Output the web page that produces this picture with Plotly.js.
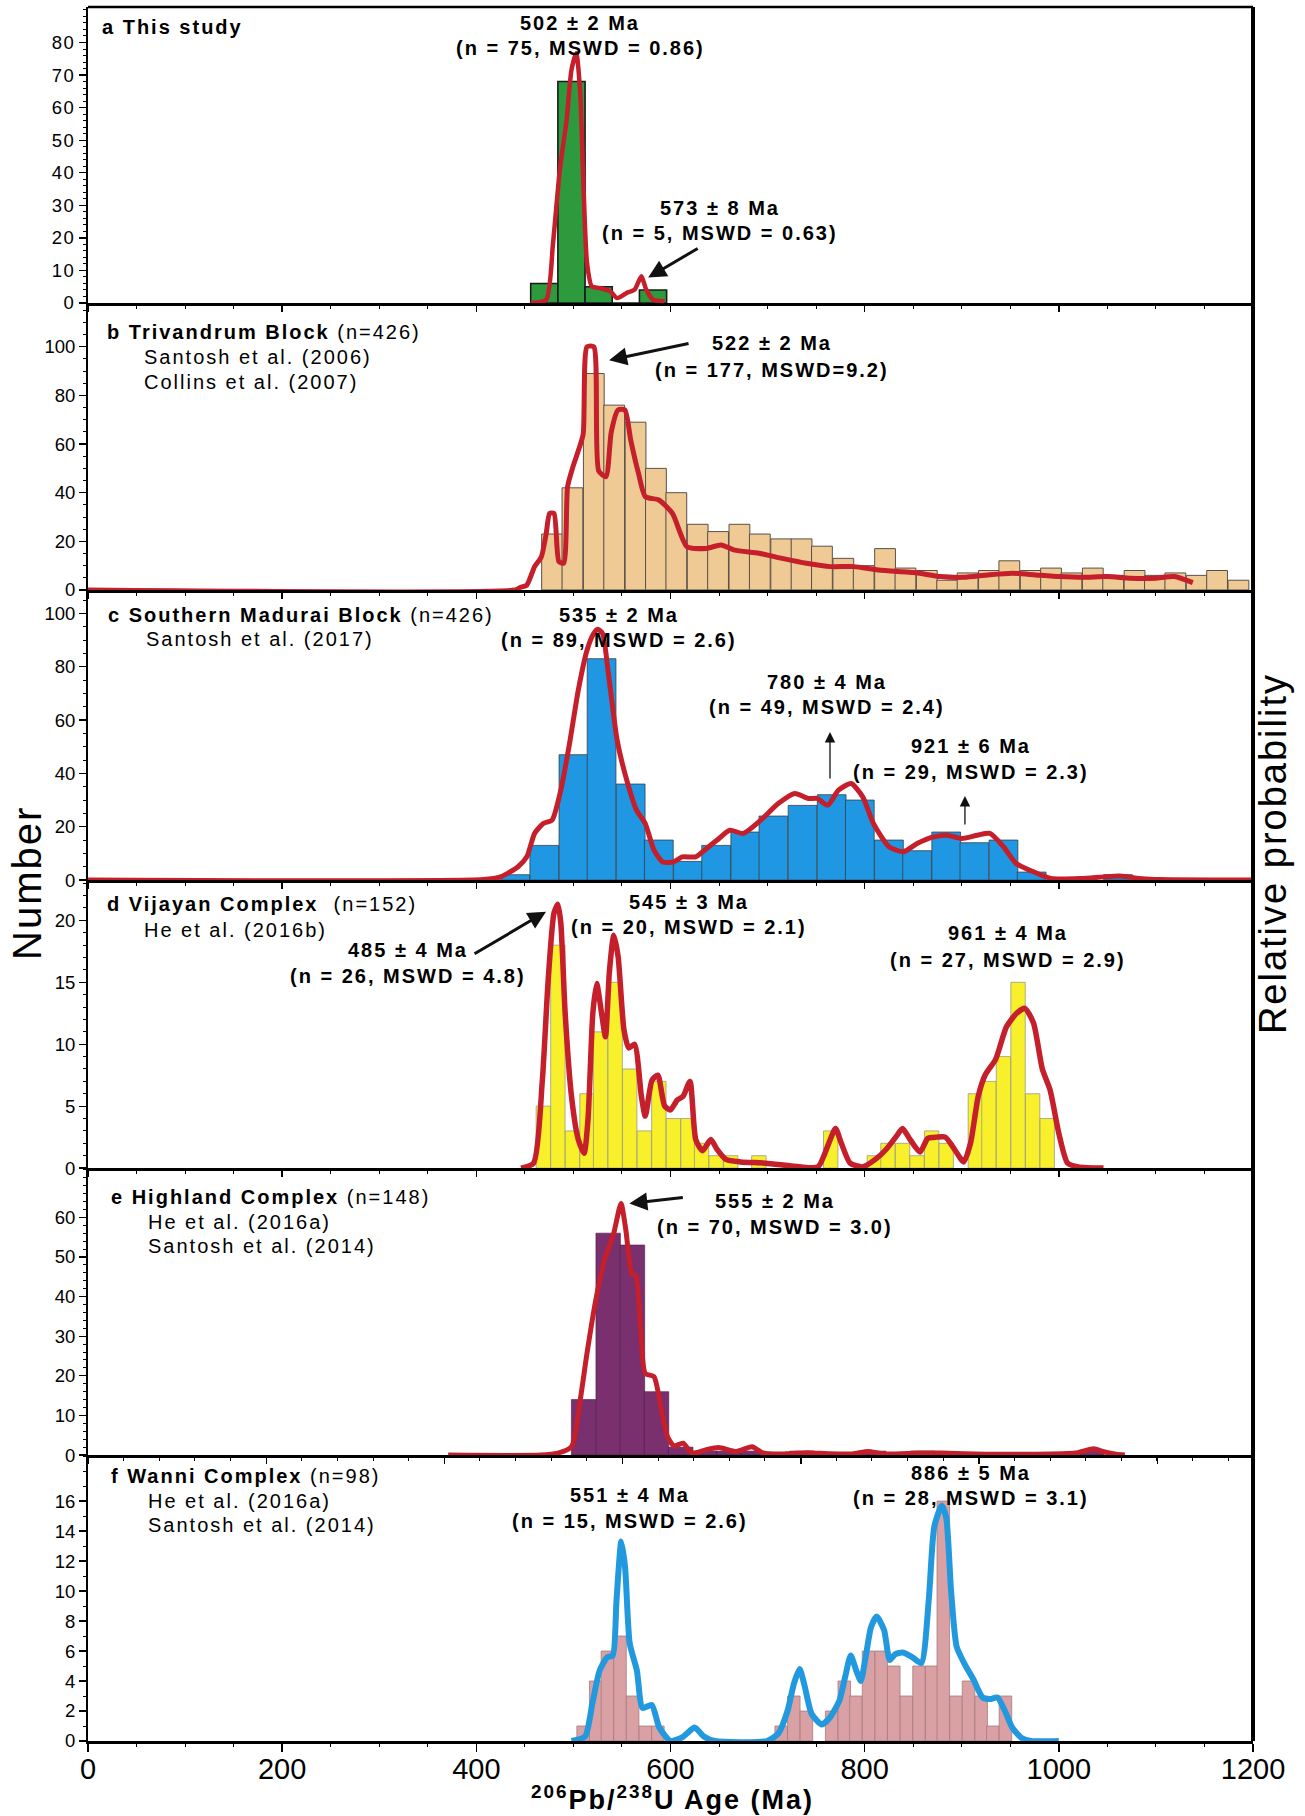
<!DOCTYPE html>
<html>
<head>
<meta charset="utf-8">
<script src="https://cdn.plot.ly/plotly-3.0.1.min.js"></script>
<style>
  html, body { margin: 0; padding: 0; background: #fff; }
  .annotation-text { letter-spacing: 2px; }
  .ytick text, .xtick text { letter-spacing: 1.5px; }
</style>
</head>
<body>
<div id="chart" style="width:1305px;height:1816px;"></div>
<script>
// ---- (a) This study ----
const ageBinsA = [470, 498, 526, 554, 582];
const countsA  = [6, 68, 5, 0, 4];
const curveAgeA  = [456, 472, 479, 486, 493, 498, 503, 507, 510, 514, 519, 527, 538, 545, 555, 563, 570, 575, 582, 594];
const curveProbA = [0, 1, 18.4, 40.9, 56.3, 71.6, 76.7, 64.5, 38.9, 12.3, 5.1, 4.6, 3.6, 1.5, 3.1, 4.1, 8.2, 4.1, 1.0, 0.5];
const yTicksA = [0, 10, 20, 30, 40, 50, 60, 70, 80];

// ---- (b) Trivandrum Block ----
const ageBinsB = [478, 499, 521, 542, 564, 585, 606, 628, 649, 671, 692, 714, 735, 756, 778, 799, 821, 842, 864, 885, 906, 928, 949, 971, 992, 1013, 1035, 1056, 1078, 1099, 1120, 1142, 1163, 1185];
const countsB  = [23, 42, 89, 76, 69, 50, 40, 27, 24, 27, 23, 21, 21, 18, 13, 10, 17, 9, 8, 4, 7, 8, 12, 8, 9, 7, 9, 6, 8, 6, 7, 6, 8, 4];
const curveAgeB  = [0, 440, 445, 452, 460, 467, 472, 475.5, 480, 485, 490, 494, 499, 504, 510, 514, 521, 526, 533.5, 539, 546, 553, 559, 567, 574, 588, 602, 617, 637, 652, 666, 691, 715, 740, 765, 789, 814, 838, 853, 878, 902, 927, 952, 976, 1001, 1025, 1050, 1074, 1099, 1119, 1138];
const curveProbB = [0, 0, 1, 2, 9.6, 13.7, 23.3, 31.5, 31.5, 11.7, 11, 42.5, 50, 56, 64, 100, 100, 49, 46.6, 65, 74, 74, 61.7, 48, 38.4, 37, 31.5, 17.8, 17.1, 18.5, 16.4, 15.1, 13, 11, 9.6, 9.6, 8.2, 7.5, 7.1, 5.5, 5.2, 6.2, 6.9, 6.2, 5.5, 5.2, 5.5, 4.8, 4.8, 5.5, 3];
const yTicksB = [0, 20, 40, 60, 80, 100];

// ---- (c) Southern Madurai Block ----
const ageBinsC = [440, 470, 500, 529, 559, 588, 618, 647, 677, 706, 736, 766, 795, 825, 854, 884, 913, 943, 972, 1061];
const countsC  = [2, 13, 47, 83, 36, 15, 7, 13, 18, 24, 28, 32, 30, 15, 11, 18, 14, 15, 3, 2];
const curveAgeC  = [0, 407, 425, 443, 452, 460, 469, 478, 487, 496, 505, 514, 521, 525, 530, 536, 545, 554, 565, 574, 583, 592, 603, 612, 626, 635, 648, 661, 675, 693, 711, 728, 742, 751, 762, 773, 786, 798, 809, 825, 840, 854, 871, 885, 900, 916, 929, 943, 956, 974, 992, 1023, 1046, 1063, 1086, 1104, 1200];
const curveProbC = [0, 0.2, 1.2, 5, 8.7, 17.5, 21.2, 22.5, 33.7, 51.2, 71.2, 86.2, 92.5, 94, 92.5, 77.5, 52.5, 38.7, 26.2, 21.2, 11.2, 6.8, 6.8, 8.7, 8.7, 11.2, 15, 18.7, 17.5, 22.5, 28.7, 32.5, 30.6, 30.6, 28.1, 33.7, 36.2, 31.2, 21.2, 12.5, 10.6, 13.7, 16.2, 16.8, 15.6, 16.8, 17.5, 12.5, 6.2, 3.1, 0.6, 0.6, 1.2, 1.5, 0.5, 0.2, 0];
const yTicksC = [0, 20, 40, 60, 80, 100];

// ---- (d) Vijayan Complex ----
const ageBinsD = [469, 484, 499, 514, 528, 543, 558, 573, 588, 603, 618, 632, 647, 662, 691, 765, 810, 824, 839, 854, 869, 884, 914, 928, 943, 958, 973, 988];
const countsD  = [5, 18, 3, 6, 11, 15, 8, 3, 7, 4, 4, 2, 1, 1, 1, 3, 1, 2, 2, 1, 3, 2, 6, 7, 9, 15, 6, 4];
const curveAgeD  = [446, 459, 468, 474, 480, 484, 487, 491.5, 498, 505, 511, 515, 520, 524, 529, 533, 537, 541.5, 546, 552, 557, 563, 570, 574, 581, 587, 594, 600, 607, 613, 620, 626, 633, 641.5, 648, 657, 672, 698, 733, 752, 763, 770, 776, 785, 798, 811, 822, 833, 839, 846, 857, 865, 874, 883, 891, 902, 909, 917, 924, 935, 946, 956.5, 965, 974, 983, 991, 1000, 1009, 1020, 1046];
const curveProbD = [0, 0.4, 7.1, 15.2, 20.6, 21.3, 19.8, 12.5, 5.8, 2.3, 1.2, 3.9, 12.5, 14.9, 12.5, 10.6, 15.8, 18.8, 17.1, 11.2, 9.7, 10, 5.8, 4.2, 7.1, 7.5, 5, 4.7, 5.5, 5.8, 7, 2.3, 1.4, 2.3, 1.5, 0.7, 0.5, 0.4, 0.1, 0.1, 2, 3.2, 2, 0.4, 0.1, 0.7, 1.5, 2.6, 3.2, 2.4, 1.3, 2.4, 2.5, 2.5, 1.7, 0.5, 2, 5.8, 7.5, 8.8, 11.4, 12.5, 12.9, 11.7, 8, 6.3, 2.8, 0.4, 0.1, 0];
const yTicksD = [0, 5, 10, 15, 20];

// ---- (e) Highland Complex ----
const ageBinsE = [510.5, 535.8, 560.8, 585.6, 610.5, 635.3, 660.1, 685.2, 735.3, 809.3, 859.9, 1034];
const countsE  = [14, 56, 53, 16, 2, 1, 1, 1, 1, 1, 1, 1];
const curveAgeE  = [371, 466, 484, 498, 507, 514, 523, 532, 541.5, 549, 554, 560, 564.5, 569, 574, 583, 590, 597, 603.5, 613, 622, 636, 649.5, 668, 684, 695.5, 718.5, 741.5, 764.5, 787.5, 803.5, 819.6, 856, 879, 925, 971, 1017, 1036, 1045, 1059, 1068];
const curveProbE = [0, 0, 0.5, 2.1, 13.9, 25.7, 39.1, 49.2, 55.9, 63.5, 56.8, 45.9, 45, 32.4, 20.6, 19.8, 12.2, 4.6, 2.3, 3, 0.5, 1.3, 1.9, 0.9, 2.1, 0.5, 0.3, 0.6, 0.3, 0.3, 0.9, 0.3, 0.5, 0.5, 0.2, 0.2, 0.5, 1.6, 0.9, 0.2, 0];
const yTicksE = [0, 10, 20, 30, 40, 50, 60];

// ---- (f) Wanni Complex ----
const ageBinsF = [510, 523, 535, 548, 561, 574, 587, 714, 727, 740, 766, 779, 791, 804, 817, 830, 843, 856, 869, 881, 894, 907, 920, 932, 945];
const countsF  = [1, 4, 6, 7, 3, 1, 1, 1, 3, 2, 2, 4, 3, 6, 6, 5, 3, 5, 5, 16, 3, 4, 3, 1, 3];
const curveAgeF  = [498, 512, 519.5, 527, 535, 540.5, 544.4, 549.3, 553.2, 558, 565.4, 571.2, 580.7, 588.4, 600, 613.3, 624.8, 634.3, 645.8, 699.4, 711, 720.5, 727, 733, 737.7, 745.4, 756, 764.5, 774, 780, 785.6, 791.3, 796, 801, 806.6, 812.4, 820, 825.8, 831.6, 839.2, 848.8, 858.3, 866, 871.7, 879.4, 884, 889, 894.7, 902.4, 912, 921.5, 929.2, 936.8, 944.5, 952, 961.7, 971.3, 1000];
const curveProbF = [0, 0.3, 2.5, 4.7, 5.6, 5.7, 9.4, 13.3, 11.6, 6.5, 4.7, 2.2, 2.4, 0.9, 0, 0.3, 0.9, 0.3, 0, 0, 0.5, 2, 3.8, 4.8, 3.8, 1.8, 1.1, 1.6, 2.7, 4.3, 5.7, 4.7, 4, 5.6, 7.6, 8.3, 7.4, 5.4, 5.8, 5.9, 5.6, 5.2, 9.4, 14.3, 15.7, 14.9, 10, 6.3, 5.2, 4.1, 2.9, 2.8, 2.9, 2, 0.9, 0.2, 0, 0];
const yTicksF = [0, 2, 4, 6, 8, 10, 12, 14, 16];

const xTickVals = [0, 200, 400, 600, 800, 1000, 1200];

const RED = '#c41f2a';
const FONT = '"Liberation Sans", Arial, sans-serif';

// one entry per stacked panel, top to bottom
const panels = [
  { bins: ageBinsA, counts: countsA, binW: 28,   fill: '#2e9a3e', edge: '#1b1b1b', edgeW: 1.6, cx: curveAgeA, cy: curveProbA, lc: RED, lw: 4.5,
    dom: [0.8293, 1.0],    yTop: 90.9, ticks: yTicksA, minor: 2 },
  { bins: ageBinsB, counts: countsB, binW: 21.4, fill: '#efca94', edge: '#5a5048', edgeW: 1,   cx: curveAgeB, cy: curveProbB, lc: RED, lw: 5,
    dom: [0.6638, 0.8293], yTop: 118,  ticks: yTicksB, minor: 5 },
  { bins: ageBinsC, counts: countsC, binW: 29.6, fill: '#1f97e2', edge: '#34414e', edgeW: 0.8, cx: curveAgeC, cy: curveProbC, lc: RED, lw: 5,
    dom: [0.4965, 0.6620], yTop: 107.6, ticks: yTicksC, minor: 5 },
  { bins: ageBinsD, counts: countsD, binW: 14.8, fill: '#f9f02c', edge: '#9a9a80', edgeW: 0.8, cx: curveAgeD, cy: curveProbD, lc: RED, lw: 5.5,
    dom: [0.3304, 0.4954], yTop: 23.1, ticks: yTicksD, minor: 1 },
  { bins: ageBinsE, counts: countsE, binW: 25.2, fill: '#7a2f6e', edge: '#4a1a44', edgeW: 0.6, cx: curveAgeE, cy: curveProbE, lc: RED, lw: 5,
    dom: [0.1649, 0.3299], yTop: 72.2, ticks: yTicksE, minor: 2 },
  { bins: ageBinsF, counts: countsF, binW: 12.9, fill: '#d9a1a3', edge: '#a87a7c', edgeW: 0.8, cx: curveAgeF, cy: curveProbF, lc: '#2299de', lw: 6,
    dom: [0.0, 0.1649],    yTop: 19.07, ticks: yTicksF, minor: 1 }
];

const traces = [];
const layout = {
  width: 1305, height: 1816,
  margin: { l: 88, r: 52, t: 7, b: 75 },
  paper_bgcolor: '#ffffff', plot_bgcolor: 'rgba(0,0,0,0)',
  showlegend: false,
  font: { family: FONT, color: '#000' },
  bargap: 0,
  annotations: [],
  shapes: []
};

panels.forEach((p, i) => {
  const n = i === 0 ? '' : String(i + 1);
  const xa = 'x' + n, ya = 'y' + n;
  traces.push({
    type: 'bar', x: p.bins, y: p.counts, width: p.binW,
    marker: { color: p.fill, line: { color: p.edge, width: p.edgeW } },
    xaxis: xa, yaxis: ya, hoverinfo: 'skip'
  });
  traces.push({
    type: 'scatter', mode: 'lines', x: p.cx, y: p.cy,
    line: { color: p.lc, width: p.lw, shape: 'spline', smoothing: 0.6 },
    xaxis: xa, yaxis: ya, hoverinfo: 'skip', cliponaxis: false
  });
  const isBottom = i === panels.length - 1;
  const isHighland = i === 4;
  const xa_ = {
    domain: [0, 1], anchor: ya, range: [0, 1200],
    showline: true, linecolor: '#000', linewidth: 3,
    showgrid: false, zeroline: false,
    ticks: 'outside', ticklen: isBottom ? 8 : 6, tickwidth: 1.5, tickcolor: '#000',
    minor: { ticks: 'outside', ticklen: 3, tickwidth: 1, tickcolor: '#000', tick0: 0, dtick: isHighland ? 36.7 : 50 },
    showticklabels: isBottom,
    tickfont: { size: 29, family: FONT, color: '#000' },
    fixedrange: true
  };
  if (isBottom) {
    xa_.tickmode = 'array';
    xa_.tickvals = xTickVals;
    xa_.ticklabelstandoff = -8;
  } else {
    xa_.tickmode = 'linear';
    xa_.tick0 = 0;
    xa_.dtick = isHighland ? 183.6 : 200;
  }
  layout['xaxis' + n] = xa_;
  layout['yaxis' + n] = {
    domain: p.dom, anchor: xa, range: [0, p.yTop],
    showline: true, linecolor: '#000', linewidth: 2,
    showgrid: false, zeroline: false,
    ticks: 'outside', ticklen: 7, tickwidth: 1.3, tickcolor: '#000',
    tickmode: 'array', tickvals: p.ticks,
    minor: { ticks: 'outside', ticklen: 3.5, tickwidth: 1, tickcolor: '#000', tick0: 0, dtick: p.minor },
    tickfont: { size: 18.5, family: FONT, color: '#000' },
    fixedrange: true
  };
});

// text helpers
function label(panel, x, y, text, size, anchor) {
  const n = panel === 0 ? '' : String(panel + 1);
  layout.annotations.push({
    xref: 'x' + n, yref: 'y' + n, x: x, y: y, text: text, showarrow: false,
    xanchor: anchor || 'center', yanchor: 'middle',
    font: { family: FONT, size: size || 20, color: '#000' }
  });
}
function arrow(panel, x, y, ax, ay, w, s) {
  const n = panel === 0 ? '' : String(panel + 1);
  layout.annotations.push({
    xref: 'x' + n, yref: 'y' + n, x: x, y: y, ax: ax, ay: ay, text: '',
    showarrow: true, arrowhead: 2, arrowsize: s, arrowwidth: w, arrowcolor: '#111', standoff: 0
  });
}

// (a)
label(0, 12, 84.8, '<b>a This study</b>', 20, 'left');
label(0, 507, 86.0, '<b>502 ± 2 Ma</b>');
label(0, 507, 78.4, '<b>(n = 75, MSWD = 0.86)</b>');
label(0, 651, 29.3, '<b>573 ± 8 Ma</b>');
label(0, 651, 21.6, '<b>(n = 5, MSWD = 0.63)</b>');
arrow(0, 577, 7.8, 51, -30, 3, 1.2);

// (b)
label(1, 17.5, 106, '<b>b Trivandrum Block</b> (n=426)', 20, 'left');
label(1, 55.6, 95.8, 'Santosh et al. (2006)', 20, 'left');
label(1, 55.6, 85.5, 'Collins et al. (2007)', 20, 'left');
label(1, 705, 101.5, '<b>522 ± 2 Ma</b>');
label(1, 705, 90.4, '<b>(n = 177, MSWD=9.2)</b>');
arrow(1, 536.7, 94.5, 81, -17, 3, 1.2);

// (c)
label(2, 18.5, 99.4, '<b>c Southern Madurai Block</b> (n=426)', 20, 'left');
label(2, 57.7, 90.4, 'Santosh et al. (2017)', 20, 'left');
label(2, 547, 99.4, '<b>535 ± 2 Ma</b>');
label(2, 547, 90, '<b>(n = 89, MSWD = 2.6)</b>');
label(2, 761, 74.2, '<b>780 ± 4 Ma</b>');
label(2, 761, 64.9, '<b>(n = 49, MSWD = 2.4)</b>');
label(2, 909.5, 50.2, '<b>921 ± 6 Ma</b>');
label(2, 909.5, 40.5, '<b>(n = 29, MSWD = 2.3)</b>');
arrow(2, 764.3, 55.5, 0, 48, 1.3, 1.6);
arrow(2, 903.3, 31.5, 0, 30, 1.3, 1.6);

// (d)
label(3, 17.5, 21.3, '<b>d Vijayan Complex</b>\u00a0\u00a0(n=152)', 20, 'left');
label(3, 55.6, 19.25, 'He et al. (2016b)', 20, 'left');
label(3, 619, 21.5, '<b>545 ± 3 Ma</b>');
label(3, 619, 19.5, '<b>(n = 20, MSWD = 2.1)</b>');
label(3, 329.6, 17.6, '<b>485 ± 4 Ma</b>');
label(3, 329.6, 15.5, '<b>(n = 26, MSWD = 4.8)</b>');
label(3, 947.6, 19.0, '<b>961 ± 4 Ma</b>');
label(3, 947.6, 16.8, '<b>(n = 27, MSWD = 2.9)</b>');
arrow(3, 471.8, 20.7, -73, 43, 3, 1.2);

// (e)
label(4, 21.6, 65.1, '<b>e Highland Complex</b> (n=148)', 20, 'left');
label(4, 59.7, 58.8, 'He et al. (2016a)', 20, 'left');
label(4, 59.7, 52.8, 'Santosh et al. (2014)', 20, 'left');
label(4, 707.6, 64.1, '<b>555 ± 2 Ma</b>');
label(4, 707.6, 57.5, '<b>(n = 70, MSWD = 3.0)</b>');
arrow(4, 557.6, 63.5, 55, -6, 3, 1.2);

// (f)
label(5, 21.6, 17.7, '<b>f Wanni Complex</b> (n=98)', 20, 'left');
label(5, 59.7, 16.0, 'He et al. (2016a)', 20, 'left');
label(5, 59.7, 14.4, 'Santosh et al. (2014)', 20, 'left');
label(5, 558.3, 16.4, '<b>551 ± 4 Ma</b>');
label(5, 558.3, 14.7, '<b>(n = 15, MSWD = 2.6)</b>');
label(5, 909.5, 17.9, '<b>886 ± 5 Ma</b>');
label(5, 909.5, 16.2, '<b>(n = 28, MSWD = 3.1)</b>');

// shared axis titles
layout.annotations.push({
  xref: 'paper', yref: 'paper', x: 0.502, y: -0.0329, showarrow: false,
  text: '<b><sup>206</sup>Pb/<sup>238</sup>U Age (Ma)</b>',
  xanchor: 'center', yanchor: 'middle', font: { family: FONT, size: 27, color: '#000' }
});
layout.annotations.push({
  xref: 'paper', yref: 'paper', x: -0.0524, y: 0.4948, showarrow: false,
  text: 'Number', textangle: -90,
  xanchor: 'center', yanchor: 'middle', font: { family: FONT, size: 40, color: '#000' }
});
layout.annotations.push({
  xref: 'paper', yref: 'paper', x: 1.0172, y: 0.5115, showarrow: false,
  text: 'Relative probability', textangle: -90,
  xanchor: 'center', yanchor: 'middle', font: { family: FONT, size: 38, color: '#000' }
});

// outer frame: thick right edge and top edge
layout.shapes.push({ type: 'line', xref: 'paper', yref: 'paper', x0: 1, x1: 1, y0: 0, y1: 1, line: { color: '#000', width: 4 } });
layout.shapes.push({ type: 'line', xref: 'paper', yref: 'paper', x0: 0, x1: 1, y0: 1, y1: 1, line: { color: '#000', width: 2.5 } });

Plotly.newPlot('chart', traces, layout, { staticPlot: true, displayModeBar: false });
</script>
</body>
</html>
